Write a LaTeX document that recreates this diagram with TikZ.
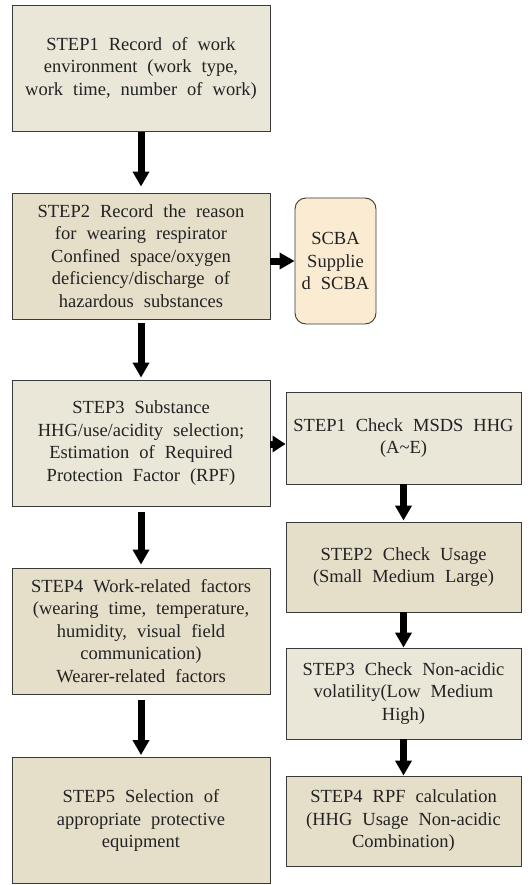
\documentclass[tikz,border=0pt]{standalone}
\usepackage{fontspec}
\setmainfont{Liberation Serif}
\usetikzlibrary{arrows.meta}
\definecolor{lightbox}{HTML}{EAE6D8}
\definecolor{darkbox}{HTML}{E5DFCA}
\definecolor{peach}{HTML}{FAEBD2}
\definecolor{edgecol}{HTML}{3A3A3A}
\definecolor{txtcol}{HTML}{222222}
\newcommand{\myboxfont}{\fontsize{18.5}{22.5}\selectfont\spaceskip=10pt plus 2pt minus 1pt\relax}
\begin{document}
\begin{tikzpicture}[x=1pt,y=-1pt,
  box/.style={draw=edgecol, line width=0.9pt, align=center, inner sep=0pt,
    font=\myboxfont, text=txtcol},
  leftbox/.style={box, minimum width=258pt, minimum height=126pt},
  rightbox/.style={box, minimum width=235pt},
  scbabox/.style={box, fill=peach, rounded corners=11pt, minimum width=81pt, minimum height=126pt},
  arr/.style={-{Triangle[width=16pt,length=15pt]}, line width=7pt, black}
]
\useasboundingbox (0,0) rectangle (529,885);

\node[leftbox, fill=lightbox] (s1) at (141,68) {STEP1 Record of work\\environment (work type,\\work time, number of work)};
\node[leftbox, fill=darkbox] (s2) at (141,256) {STEP2 Record the reason\\for wearing respirator\\Confined space/oxygen\\deficiency/discharge of\\hazardous substances};
\node[scbabox] (sc) at (335.5,261) {SCBA\\Supplie\\d SCBA};
\node[leftbox, fill=lightbox] (s3) at (141,443) {STEP3 Substance\\HHG/use/acidity selection;\\Estimation of Required\\Protection Factor (RPF)};
\node[leftbox, fill=darkbox] (s4) at (141,631) {STEP4 Work-related factors\\(wearing time, temperature,\\humidity, visual field\\communication)\\Wearer-related factors};
\node[leftbox, fill=darkbox] (s5) at (141,820.5) {STEP5 Selection of\\appropriate protective\\equipment};

\node[rightbox, fill=lightbox, minimum height=92pt] (r1) at (403.5,438) {STEP1 Check MSDS HHG\\(A\textasciitilde E)};
\node[rightbox, fill=darkbox, minimum height=90pt] (r2) at (403.5,567) {STEP2 Check Usage\\(Small Medium Large)};
\node[rightbox, fill=lightbox, minimum height=91pt] (r3) at (403.5,693.5) {STEP3 Check Non-acidic\\volatility(Low Medium\\High)};
\node[rightbox, fill=darkbox, minimum height=90pt] (r4) at (403.5,821) {STEP4 RPF calculation\\(HHG Usage Non-acidic\\Combination)};

\draw[arr] ([yshift=-1pt]s1.south) -- ([yshift=6pt]s2.north);
\draw[arr] ([yshift=-4pt]s2.south) -- ([yshift=2pt]s3.north);
\draw[arr] ([yshift=-6pt]s3.south) -- ([yshift=3pt]s4.north);
\draw[arr] ([yshift=-6pt]s4.south) -- ([yshift=2pt]s5.north);

\draw[arr] (r1.south) -- ([yshift=1pt]r2.north);
\draw[arr] (r2.south) -- (r3.north);
\draw[arr] (r3.south) -- (r4.north);

\draw[arr] (s2.east |- sc.center) -- (sc.west);
\draw[arr, -{Triangle[width=16pt,length=13pt]}] ([yshift=-1pt]s3.east) -- ([yshift=-1pt]s3.east -| r1.west);
\end{tikzpicture}
\end{document}
